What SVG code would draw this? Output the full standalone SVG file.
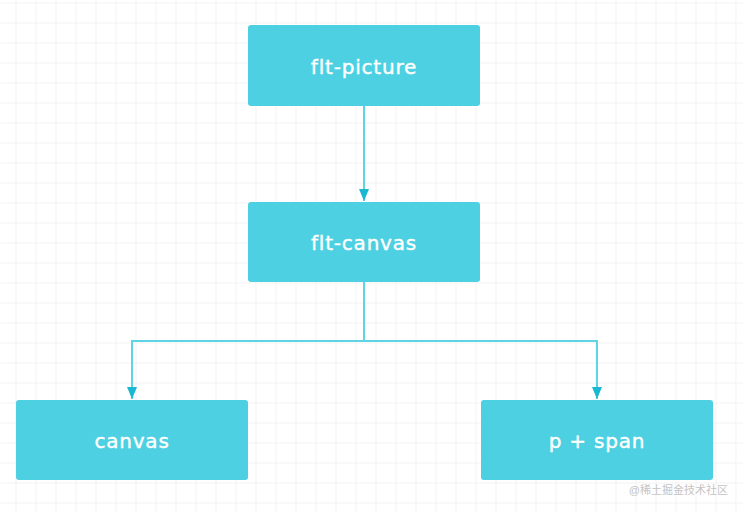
<svg xmlns="http://www.w3.org/2000/svg" width="743" height="512" viewBox="0 0 743 512">
<defs>
<pattern id="grid" x="15" y="2" width="20" height="20" patternUnits="userSpaceOnUse">
<path d="M0 0H20M0 0V20" fill="none" stroke="#e8e8e8" stroke-width="1"/>
</pattern>
<marker id="arr" markerWidth="12" markerHeight="10" refX="12" refY="5" orient="auto" markerUnits="userSpaceOnUse" viewBox="0 0 12 10">
<path d="M0 0L12 5L0 10Z" fill="#1ab9d1"/>
</marker>
<style>
.box{fill:#4dd0e1}
.lbl{font-family:"DejaVu Sans",sans-serif;font-size:20px;fill:#ffffff;stroke:#ffffff;stroke-width:0.4px;text-anchor:middle;dominant-baseline:central;letter-spacing:0.8px}
.edge{fill:none;stroke:#5fd4e4;stroke-width:2}
</style>
</defs>
<rect width="743" height="512" fill="#ffffff"/>
<rect x="0" y="0" width="743" height="512" fill="url(#grid)" transform="translate(0.5 0.5)"/>
<g id="connectors">
<path class="edge" d="M364 106V201" marker-end="url(#arr)"/>
<path class="edge" d="M364 282V341H132V399" marker-end="url(#arr)"/>
<path class="edge" d="M364 341H597V399" marker-end="url(#arr)"/>
</g>
<g id="flt-picture">
<rect class="box" x="248" y="25" width="232" height="81" rx="3"/>
<text class="lbl" x="364" y="67">flt-picture</text>
</g>
<g id="flt-canvas">
<rect class="box" x="248" y="202" width="232" height="80" rx="3"/>
<text class="lbl" x="364" y="243">flt-canvas</text>
</g>
<g id="canvas">
<rect class="box" x="16" y="400" width="232" height="80" rx="3"/>
<text class="lbl" x="132" y="441">canvas</text>
</g>
<g id="p-span">
<rect class="box" x="481" y="400" width="232" height="80" rx="3"/>
<text class="lbl" x="597" y="441">p + span</text>
</g>
<text x="728" y="494" text-anchor="end" font-family="'Liberation Sans','Noto Sans CJK SC',sans-serif" font-size="11" fill="#c4c4c4">@稀土掘金技术社区</text>
</svg>
